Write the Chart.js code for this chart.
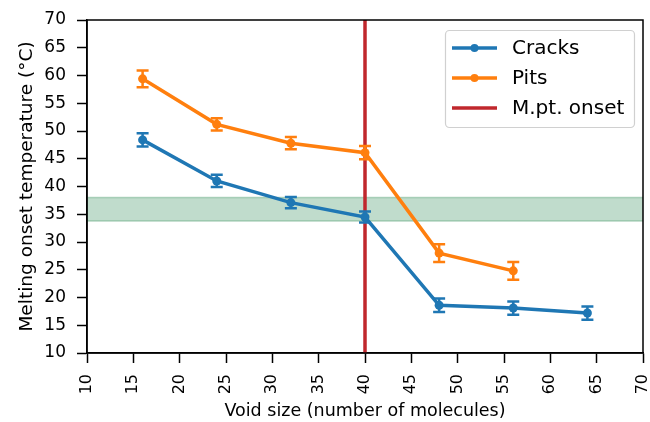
<!DOCTYPE html>
<html><head><meta charset="utf-8">
<script src="https://cdn.jsdelivr.net/npm/chart.js@4"></script>
<style>html,body{margin:0;padding:0;background:#fff}#w{width:650px;height:422px}</style>
</head><body><div id="w"><canvas id="c"></canvas></div>
<script>
const crackX = [16, 24, 32, 40, 48, 56, 64];
const crackY = [48.4, 41.0, 37.1, 34.5, 18.6, 18.1, 17.2];
const crackErr = [1.2, 1.1, 1.0, 1.0, 1.2, 1.2, 1.2];
const pitX = [16, 24, 32, 40, 48, 56];
const pitY = [59.4, 51.2, 47.8, 46.1, 28.0, 24.8];
const pitErr = [1.5, 1.1, 1.1, 1.2, 1.6, 1.6];
const onsetX = 40;
const bandLow = 33.8;
const bandHigh = 38.0;
const xTicks = [10,15,20,25,30,35,40,45,50,55,60,65,70];
const yTicks = [10,15,20,25,30,35,40,45,50,55,60,65,70];
const legendLabels = ['Cracks', 'Pits', 'M.pt. onset'];

const BLUE = '#1f77b4', ORANGE = '#ff7f0e', RED = '#c0272d';
const FONT = "'DejaVu Sans', sans-serif";

const bandPlugin = {
  id: 'band',
  beforeDatasetsDraw(chart) {
    const {ctx, chartArea: a, scales: {x, y}} = chart;
    const y1 = y.getPixelForValue(bandHigh), y2 = y.getPixelForValue(bandLow);
    ctx.save();
    ctx.fillStyle = 'rgba(46,139,87,0.3)';
    ctx.fillRect(a.left, y1, a.right - a.left, y2 - y1);
    ctx.strokeStyle = 'rgba(46,139,87,0.35)';
    ctx.lineWidth = 1.5;
    ctx.beginPath();
    ctx.moveTo(a.left, y1); ctx.lineTo(a.right, y1);
    ctx.moveTo(a.left, y2); ctx.lineTo(a.right, y2);
    ctx.stroke();
    const px = x.getPixelForValue(onsetX);
    ctx.strokeStyle = RED; ctx.lineWidth = 3.5;
    ctx.beginPath(); ctx.moveTo(px, a.top); ctx.lineTo(px, a.bottom); ctx.stroke();
    ctx.restore();
  },
  afterDatasetsDraw(chart) {
    const {ctx, scales: {x, y}} = chart;
    const sets = [[crackX, crackY, crackErr, BLUE], [pitX, pitY, pitErr, ORANGE]];
    ctx.save();
    ctx.lineWidth = 2.5;
    for (const [xs, ys, es, col] of sets) {
      ctx.strokeStyle = col;
      xs.forEach((xv, i) => {
        const px = x.getPixelForValue(xv);
        const t = y.getPixelForValue(ys[i] + es[i]);
        const b = y.getPixelForValue(ys[i] - es[i]);
        ctx.beginPath();
        ctx.moveTo(px, t); ctx.lineTo(px, b);
        ctx.moveTo(px - 6, t); ctx.lineTo(px + 6, t);
        ctx.moveTo(px - 6, b); ctx.lineTo(px + 6, b);
        ctx.stroke();
      });
    }
    ctx.restore();
  },
  afterDraw(chart) {
    const {ctx, chartArea: a} = chart;
    ctx.save();
    ctx.strokeStyle = '#000'; ctx.lineWidth = 1.5;
    ctx.strokeRect(a.left, a.top, a.right - a.left, a.bottom - a.top);
    const bx = 445, by = 30, bw = 189, bh = 97;
    ctx.fillStyle = 'rgba(255,255,255,0.8)';
    ctx.strokeStyle = '#d0d0d0';
    ctx.lineWidth = 1.2;
    ctx.beginPath();
    ctx.roundRect(bx + 0.5, by + 0.5, bw, bh, 4);
    ctx.fill(); ctx.stroke();
    const cols = [BLUE, ORANGE, RED];
    const ys = [48, 78, 108];
    ctx.font = '20px ' + FONT;
    ctx.textBaseline = 'middle';
    legendLabels.forEach((l, i) => {
      ctx.strokeStyle = cols[i]; ctx.lineWidth = 3.5;
      ctx.beginPath(); ctx.moveTo(452, ys[i]); ctx.lineTo(497, ys[i]); ctx.stroke();
      if (i < 2) {
        ctx.fillStyle = cols[i];
        ctx.beginPath(); ctx.arc(474.5, ys[i], 4, 0, Math.PI * 2); ctx.fill();
      }
      ctx.fillStyle = '#000';
      ctx.fillText(l, 512, ys[i] + 1);
    });
    ctx.restore();
  }
};

new Chart(document.getElementById('c'), {
  type: 'scatter',
  data: {
    datasets: [
      {label: legendLabels[0], data: crackX.map((v, i) => ({x: v, y: crackY[i]})), showLine: true,
       borderColor: BLUE, backgroundColor: BLUE, borderWidth: 3.5, pointRadius: 4.5, pointHoverRadius: 4.5, pointBorderWidth: 0},
      {label: legendLabels[1], data: pitX.map((v, i) => ({x: v, y: pitY[i]})), showLine: true,
       borderColor: ORANGE, backgroundColor: ORANGE, borderWidth: 3.5, pointRadius: 4.5, pointHoverRadius: 4.5, pointBorderWidth: 0}
    ]
  },
  options: {
    responsive: true, maintainAspectRatio: false, animation: false,
    layout: {padding: {top: 20, right: 7, left: 0, bottom: 0}},
    plugins: {legend: {display: false}, tooltip: {enabled: false}},
    scales: {
      x: {
        type: 'linear', min: 10, max: 70,
        afterBuildTicks: s => { s.ticks = xTicks.map(v => ({value: v})); },
        afterFit: s => { s.height = 69; s.paddingLeft = 0; s.paddingRight = 0; },
        ticks: {color: '#000', font: {family: FONT, size: 16}, minRotation: 90, maxRotation: 90, padding: 11},
        grid: {drawOnChartArea: false, color: '#000', tickLength: 10, tickWidth: 1.5},
        border: {color: '#000', width: 1.5},
        title: {display: true, text: 'Void size (number of molecules)', color: '#000', font: {family: FONT, size: 17.5}, padding: {top: 0, bottom: 0}}
      },
      y: {
        type: 'linear', min: 10, max: 70,
        afterBuildTicks: s => { s.ticks = yTicks.map(v => ({value: v})); },
        afterFit: s => { s.width = 87; s.paddingTop = 0; s.paddingBottom = 0; },
        ticks: {color: '#000', font: {family: FONT, size: 17}, padding: 11},
        grid: {drawOnChartArea: false, color: '#000', tickLength: 10, tickWidth: 1.5},
        border: {color: '#000', width: 1.5},
        title: {display: true, text: 'Melting onset temperature (°C)', color: '#000', font: {family: FONT, size: 18.5}, padding: {top: 16, bottom: 0}}
      }
    }
  },
  plugins: [bandPlugin]
});
</script>
</body></html>
